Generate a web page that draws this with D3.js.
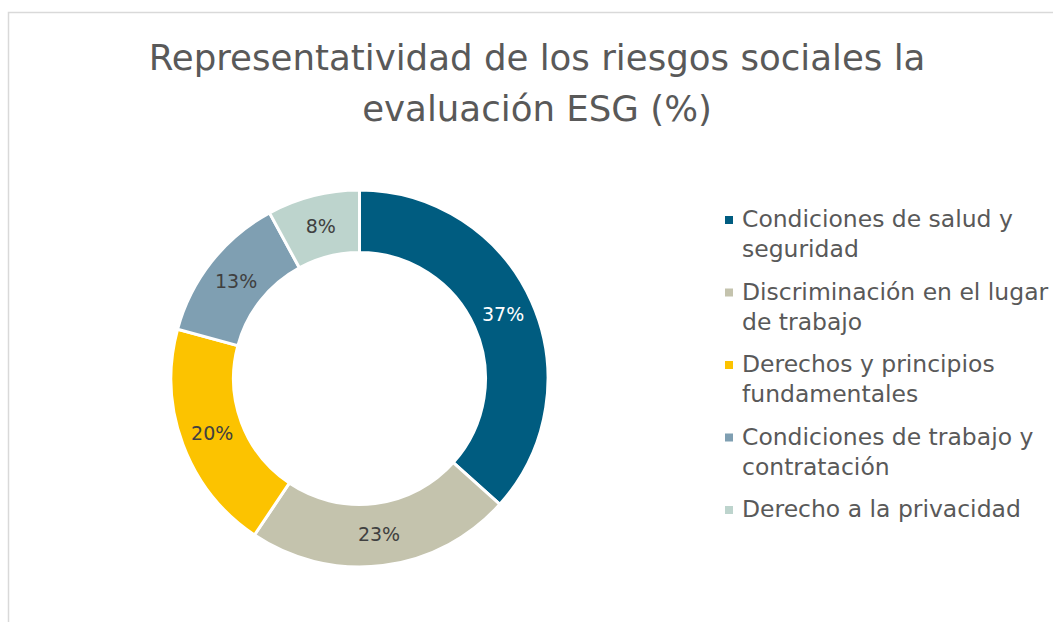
<!DOCTYPE html>
<html>
<head>
<meta charset="utf-8">
<script src="https://cdn.jsdelivr.net/npm/d3@7"></script>
<style>
  html, body { margin: 0; padding: 0; background: #fff; }
  svg { display: block; }
</style>
</head>
<body>
<svg id="chart" width="1053" height="622"></svg>
<script>
// ---- data ----
const titleLines = ["Representatividad de los riesgos sociales la", "evaluación ESG (%)"];
const categories = [
  "Condiciones de salud y seguridad",
  "Discriminación en el lugar de trabajo",
  "Derechos y principios fundamentales",
  "Condiciones de trabajo y contratación",
  "Derecho a la privacidad"
];
const legendLines = [
  ["Condiciones de salud y", "seguridad"],
  ["Discriminación en el lugar", "de trabajo"],
  ["Derechos y principios", "fundamentales"],
  ["Condiciones de trabajo y", "contratación"],
  ["Derecho a la privacidad"]
];
const values = [37, 23, 20, 13, 8];
const colors = ["#005C80", "#C4C3AD", "#FCC300", "#7F9FB2", "#BDD4CD"];
const labelColors = ["#ffffff", "#404040", "#404040", "#404040", "#404040"];

// ---- layout ----
const FONT = "'DejaVu Sans', sans-serif";
const svg = d3.select("#chart");

// border
svg.append("rect")
  .attr("x", 8.5).attr("y", 12.5)
  .attr("width", 1200).attr("height", 800)
  .attr("fill", "#fff").attr("stroke", "#D9D9D9").attr("stroke-width", 1.5);

function fitSize(text, targetWidth, base) {
  const t = svg.append("text").attr("font-family", FONT).attr("font-size", base).text(text);
  const w = t.node().getComputedTextLength();
  t.remove();
  return base * targetWidth / w;
}

// title
const titleSize = fitSize(titleLines[0], 777, 30);
const titleBase = [70, 121];
svg.append("g").selectAll("text").data(titleLines).join("text")
  .attr("x", 537).attr("y", (d, i) => titleBase[i])
  .attr("text-anchor", "middle")
  .attr("font-family", FONT).attr("font-size", titleSize)
  .attr("fill", "#595959")
  .text(d => d);

// donut
const cx = 359.5, cy = 378.5, rOuter = 188.5, rInner = 126;
const pie = d3.pie().sort(null).value(d => d);
const arcs = pie(values);
const arc = d3.arc().innerRadius(rInner).outerRadius(rOuter);
const g = svg.append("g").attr("transform", `translate(${cx},${cy})`);
g.selectAll("path").data(arcs).join("path")
  .attr("d", arc)
  .attr("fill", (d, i) => colors[i])
  .attr("stroke", "#fff").attr("stroke-width", 3).attr("stroke-linejoin", "miter");

g.selectAll("text.lbl").data(arcs).join("text")
  .attr("class", "lbl")
  .attr("transform", d => `translate(${arc.centroid(d)})`)
  .attr("text-anchor", "middle")
  .attr("dy", "0.36em")
  .attr("font-family", FONT).attr("font-size", 19)
  .attr("fill", (d, i) => labelColors[i])
  .text(d => d.data + "%");

// legend
const legSize = fitSize(legendLines[0][0], 271, 20);
const legX = 742, legY0 = 227, legStep = 72.5, lineH = 30;
const items = svg.append("g").selectAll("g").data(categories).join("g")
  .attr("transform", (d, i) => `translate(0,${legY0 + i * legStep})`);
items.append("rect")
  .attr("x", 725).attr("y", -11).attr("width", 8).attr("height", 8)
  .attr("fill", (d, i) => colors[i]);
items.each(function(d, i) {
  d3.select(this).selectAll("text").data(legendLines[i]).join("text")
    .attr("x", legX).attr("y", (l, j) => j * lineH)
    .attr("font-family", FONT).attr("font-size", legSize)
    .attr("fill", "#595959")
    .text(l => l);
});
</script>
</body>
</html>
